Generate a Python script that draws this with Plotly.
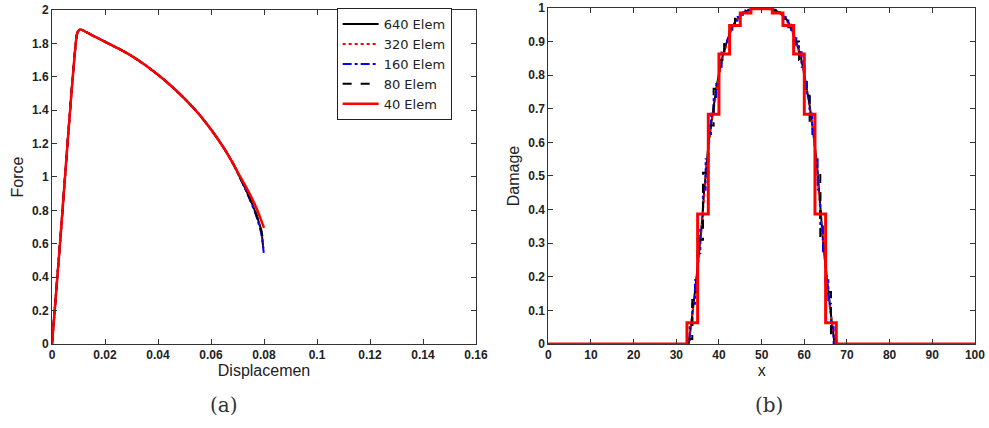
import plotly.graph_objects as go

# ---------------- (a) Force vs displacement ----------------
pre_disp = [0.0, 0.0030, 0.0094, 0.0100, 0.0106, 0.0115, 0.015, 0.020, 0.025, 0.030, 0.035, 0.040,
            0.045, 0.050, 0.055, 0.060, 0.065, 0.0685]
pre_force = [0.0, 0.60, 1.855, 1.876, 1.884, 1.880, 1.850, 1.810, 1.770, 1.725, 1.672, 1.612,
             1.545, 1.470, 1.385, 1.285, 1.170, 1.075]

tail_disp_640 = [0.0710, 0.0735, 0.0768, 0.0790, 0.0797]
tail_force_640 = [0.995, 0.912, 0.787, 0.675, 0.575]
tail_disp_320 = [0.0710, 0.0735, 0.0768, 0.0790, 0.0798]
tail_force_320 = [0.993, 0.910, 0.785, 0.670, 0.560]
tail_disp_160 = [0.0710, 0.0735, 0.0768, 0.0790, 0.0799]
tail_force_160 = [0.993, 0.908, 0.780, 0.660, 0.545]
tail_disp_80 = [0.0710, 0.0735, 0.0768, 0.0790, 0.0798]
tail_force_80 = [0.996, 0.915, 0.790, 0.680, 0.600]
tail_disp_40 = [0.0710, 0.0735, 0.0772, 0.0800]
tail_force_40 = [1.002, 0.932, 0.812, 0.695]

# ---------------- (b) Damage profiles ----------------
# 640 / 320 elements: nearly smooth curves (x, damage)
x_640 = [0.0, 32.9, 33.5, 34.0, 34.5, 35.0, 35.5, 36.0, 36.5, 37.0, 37.5, 38.0, 38.75, 39.5, 40.25, 41.0,
         42.0, 43.0, 44.0, 45.0, 46.0, 47.0, 48.0, 49.0, 50.0, 51.0, 52.0, 53.0, 54.0, 55.0, 56.0, 57.0,
         58.0, 59.0, 59.75, 60.5, 61.25, 62.0, 62.5, 63.0, 63.5, 64.0, 64.5, 65.0, 65.5, 66.0, 66.5, 67.1, 100.0]
d_640 = [0.0, 0.0, 0.06, 0.11, 0.17, 0.23, 0.29, 0.36, 0.45, 0.53, 0.59, 0.64, 0.71, 0.77, 0.82, 0.865,
         0.905, 0.94, 0.963, 0.978, 0.988, 0.994, 0.998, 1.0, 1.0, 1.0, 0.998, 0.994, 0.988, 0.978, 0.963, 0.94,
         0.905, 0.865, 0.82, 0.77, 0.71, 0.64, 0.59, 0.53, 0.45, 0.36, 0.29, 0.23, 0.17, 0.11, 0.06, 0.0, 0.0]
x_320 = [0.0, 32.8, 33.4, 34.0, 34.5, 35.0, 35.5, 36.0, 36.5, 37.0, 37.5, 38.0, 38.75, 39.5, 40.25, 41.0,
         42.0, 43.0, 44.0, 45.0, 46.0, 47.0, 48.0, 49.0, 50.0, 51.0, 52.0, 53.0, 54.0, 55.0, 56.0, 57.0,
         58.0, 59.0, 59.75, 60.5, 61.25, 62.0, 62.5, 63.0, 63.5, 64.0, 64.5, 65.0, 65.5, 66.0, 66.6, 67.2, 100.0]
d_320 = [0.0, 0.0, 0.05, 0.11, 0.16, 0.22, 0.29, 0.35, 0.44, 0.52, 0.58, 0.64, 0.70, 0.765, 0.815, 0.86,
         0.90, 0.937, 0.96, 0.977, 0.987, 0.994, 0.998, 1.0, 1.0, 1.0, 0.998, 0.994, 0.987, 0.977, 0.96, 0.937,
         0.90, 0.86, 0.815, 0.765, 0.70, 0.64, 0.58, 0.52, 0.44, 0.35, 0.29, 0.22, 0.16, 0.11, 0.05, 0.0, 0.0]

# element-wise damage values (nonzero region only) for 160 / 80 / 40 elements
n_160, zeros_160 = 160, 52
d_160 = [0.0, 0.05, 0.12, 0.19, 0.27, 0.35, 0.46, 0.55, 0.625, 0.685, 0.735, 0.78, 0.825, 0.868,
         0.89, 0.91, 0.935, 0.95, 0.963, 0.973, 0.98, 0.987, 0.991, 0.995, 0.997, 0.999, 1.0, 1.0,
         1.0, 1.0, 0.999, 0.997, 0.995, 0.991, 0.987, 0.98, 0.973, 0.963, 0.95, 0.935, 0.91, 0.89,
         0.868, 0.825, 0.78, 0.735, 0.685, 0.625, 0.55, 0.46, 0.35, 0.27, 0.19, 0.12, 0.05, 0.0]
n_80, zeros_80 = 80, 26
d_80 = [0.015, 0.155, 0.31, 0.51, 0.65, 0.76, 0.845, 0.90, 0.943, 0.968, 0.985, 0.993, 0.998, 1.0,
        1.0, 0.998, 0.993, 0.985, 0.968, 0.943, 0.90, 0.845, 0.76, 0.65, 0.51, 0.31, 0.155, 0.015]
n_40, zeros_40 = 40, 13
d_40 = [0.063, 0.387, 0.684, 0.863, 0.948, 0.985, 0.998,
        0.998, 0.985, 0.948, 0.863, 0.684, 0.387, 0.063]

series_names = ["640 Elem", "320 Elem", "160 Elem", "80 Elem", "40 Elem"]
x_length = 100.0


def step_xy(n, nz, vals):
    full = [0.0] * nz + vals + [0.0] * (n - nz - len(vals))
    w = x_length / n
    xs = [i * w for i in range(n + 1)]
    ys = full + [full[-1]]
    return xs, ys


styles = {
    "640 Elem": dict(color="black", width=2, dash="solid"),
    "320 Elem": dict(color="red", width=2, dash="dot"),
    "160 Elem": dict(color="blue", width=2, dash="dashdot"),
    "80 Elem": dict(color="black", width=2, dash="dash"),
    "40 Elem": dict(color="red", width=2.5, dash="solid"),
}

fig = go.Figure()

left_data = {
    "640 Elem": (pre_disp + tail_disp_640, pre_force + tail_force_640),
    "320 Elem": (pre_disp + tail_disp_320, pre_force + tail_force_320),
    "160 Elem": (pre_disp + tail_disp_160, pre_force + tail_force_160),
    "80 Elem": (pre_disp + tail_disp_80, pre_force + tail_force_80),
    "40 Elem": (pre_disp + tail_disp_40, pre_force + tail_force_40),
}
for name in series_names:
    xs, ys = left_data[name]
    st = dict(styles[name])
    st["shape"] = "spline"
    st["smoothing"] = 0.6
    fig.add_trace(go.Scatter(x=xs, y=ys, mode="lines", name=name, line=st,
                             xaxis="x", yaxis="y", showlegend=True))

right_data = {
    "640 Elem": (x_640, d_640, "linear"),
    "320 Elem": (x_320, d_320, "linear"),
    "160 Elem": step_xy(n_160, zeros_160, d_160) + ("hv",),
    "80 Elem": step_xy(n_80, zeros_80, d_80) + ("hv",),
    "40 Elem": step_xy(n_40, zeros_40, d_40) + ("hv",),
}
for name in series_names:
    xs, ys, shape = right_data[name]
    st = dict(styles[name])
    if name == "40 Elem":
        st["width"] = 3
    st["shape"] = shape
    fig.add_trace(go.Scatter(x=xs, y=ys, mode="lines", name=name, line=st,
                             xaxis="x2", yaxis="y2", showlegend=False))

tick_font = dict(family="Liberation Sans, Arial", size=12, color="#222", weight="bold")
title_font = dict(family="Liberation Sans, Arial", size=16, color="#222")
axis_common = dict(showline=True, linecolor="#333", linewidth=1, mirror="ticks", ticks="inside",
                   ticklen=5, tickcolor="#333", showgrid=False, zeroline=False, tickfont=tick_font,
                   automargin=False)

fig.update_layout(
    width=989, height=428,
    margin=dict(l=0, r=0, t=0, b=0),
    paper_bgcolor="white", plot_bgcolor="white",
    xaxis=dict(domain=[0.0526, 0.4813], range=[0, 0.16], dtick=0.02, anchor="y",
               title=dict(text="Displacemen", font=title_font, standoff=2), **axis_common),
    yaxis=dict(domain=[0.1963, 0.9766], range=[0, 2], dtick=0.2, anchor="x",
               title=dict(text="Force", font=title_font, standoff=4), **axis_common),
    xaxis2=dict(domain=[0.5544, 0.9858], range=[0, 100], dtick=10, anchor="y2",
                title=dict(text="x", font=title_font, standoff=2), **axis_common),
    yaxis2=dict(domain=[0.1963, 0.9813], range=[0, 1], dtick=0.1, anchor="x2",
                title=dict(text="Damage", font=title_font, standoff=4), **axis_common),
    legend=dict(x=0.3404, y=0.981, xanchor="left", yanchor="top", bgcolor="white",
                bordercolor="#222", borderwidth=1, itemwidth=36,
                font=dict(family="DejaVu Sans", size=13, color="#222")),
    annotations=[
        dict(text="(a)", x=0.2105, y=0.054, xref="paper", yref="paper", showarrow=False,
             yanchor="middle", font=dict(family="DejaVu Serif", size=20, color="#333")),
        dict(text="(b)", x=0.7937, y=0.054, xref="paper", yref="paper", showarrow=False,
             yanchor="middle", font=dict(family="DejaVu Serif", size=20, color="#333")),
    ],
)

fig.write_html("out.html", config={"displayModeBar": False},
               post_script="document.body.style.margin='0';document.body.style.overflow='hidden';")
